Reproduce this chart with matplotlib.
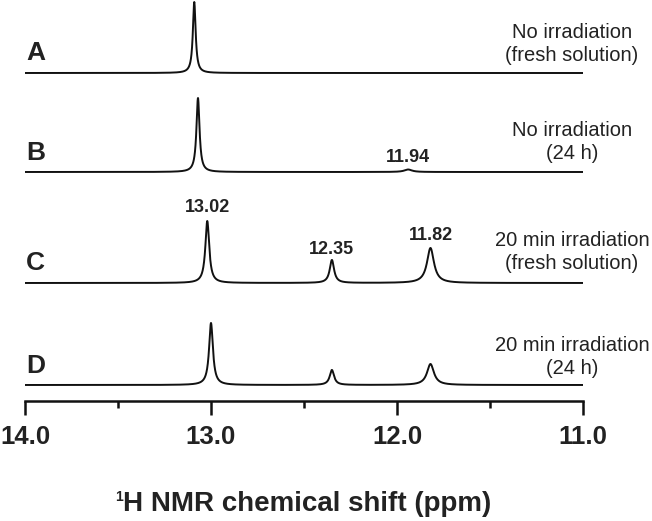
import numpy as np
import matplotlib
matplotlib.use("Agg")
import matplotlib.pyplot as plt

plt.rcParams['font.family'] = ['Liberation Sans', 'DejaVu Sans']

# ---- data ----
spectra = ['A', 'B', 'C', 'D']
conditions = ['No irradiation\n(fresh solution)', 'No irradiation\n(24 h)',
              '20 min irradiation\n(fresh solution)', '20 min irradiation\n(24 h)']
# peak positions (ppm), heights (arb.), widths (FWHM, ppm) for each spectrum
peak_pos = {'A': [13.09], 'B': [13.07, 11.94], 'C': [13.02, 12.35, 11.82], 'D': [13.00, 12.35, 11.82]}
peak_height = {'A': [71], 'B': [74, 2.5], 'C': [62, 23, 35], 'D': [62, 15, 21]}
peak_fwhm = {'A': [0.018], 'B': [0.02, 0.05], 'C': [0.025, 0.028, 0.045], 'D': [0.025, 0.028, 0.045]}
peak_labels = {'B': [(11.94, '11.94')], 'C': [(13.02, '13.02'), (12.35, '12.35'), (11.82, '11.82')]}
xticks = [14.0, 13.0, 12.0, 11.0]
xtick_labels = ['14.0', '13.0', '12.0', '11.0']

# ---- layout ----
W, H = 652, 521
fig = plt.figure(figsize=(W / 100, H / 100), dpi=100)
ax = fig.add_axes([25 / W, 120 / H, 558 / W, 401 / H])
ax.set_xlim(14.0, 11.0)
ax.set_ylim(0, 401)

def fy(py):
    """pixel row (from top) -> figure fraction"""
    return (H - py) / H

baselines = {'A': 328, 'B': 229, 'C': 118, 'D': 16}
ppm = np.linspace(14.0, 11.0, 4000)
for s in spectra:
    y = np.zeros_like(ppm)
    for x0, h, w in zip(peak_pos[s], peak_height[s], peak_fwhm[s]):
        y += h / (1 + ((ppm - x0) / (w / 2)) ** 2)
    ax.plot(ppm, baselines[s] + y, color='#111111', lw=1.4)

# spectrum letters
letter_py = {'A': 53, 'B': 153, 'C': 262.5, 'D': 366}
for s in spectra:
    fig.text(26 / W, fy(letter_py[s]), s, ha='left', va='center',
             fontsize=19, fontweight='bold', color='#222222')

# condition texts
cond_py = [44, 142, 252, 357]
for c, py in zip(conditions, cond_py):
    fig.text(572 / W, fy(py), c, ha='center', va='center',
             fontsize=14.5, linespacing=1.3, color='#222222')

# peak labels
label_y = {'B': [401 - 158], 'C': [401 - 208, 401 - 249, 401 - 235]}
for s, lst in peak_labels.items():
    for (x0, txt), yy in zip(lst, label_y[s]):
        ax.text(x0, yy, txt, ha='center', va='center', fontsize=13,
                fontweight='bold', color='#222222')

# axes styling
for sp in ['left', 'right', 'top']:
    ax.spines[sp].set_visible(False)
ax.spines['bottom'].set_linewidth(1.8)
ax.spines['bottom'].set_color('#111111')
ax.set_yticks([])
ax.set_xticks(xticks)
ax.set_xticklabels(xtick_labels, fontsize=18.5, fontweight='bold', color='#222222')
ax.set_xticks([13.5, 12.5, 11.5], minor=True)
ax.tick_params(axis='x', which='major', direction='out', length=10, width=1.8, pad=7, color='#111111')
ax.tick_params(axis='x', which='minor', direction='out', length=5, width=1.8, color='#111111')

# x label with small superscript 1
xl = fig.text(307.5 / W, fy(504), 'H NMR chemical shift (ppm)', ha='center', va='center',
              fontsize=20, fontweight='bold', color='#222222')
fig.canvas.draw()
bb = xl.get_window_extent()
fig.text((bb.x0 - 1) / W, fy(490), '1', ha='right', va='top',
         fontsize=10, fontweight='bold', color='#222222')

fig.savefig('out.png', dpi=100)
